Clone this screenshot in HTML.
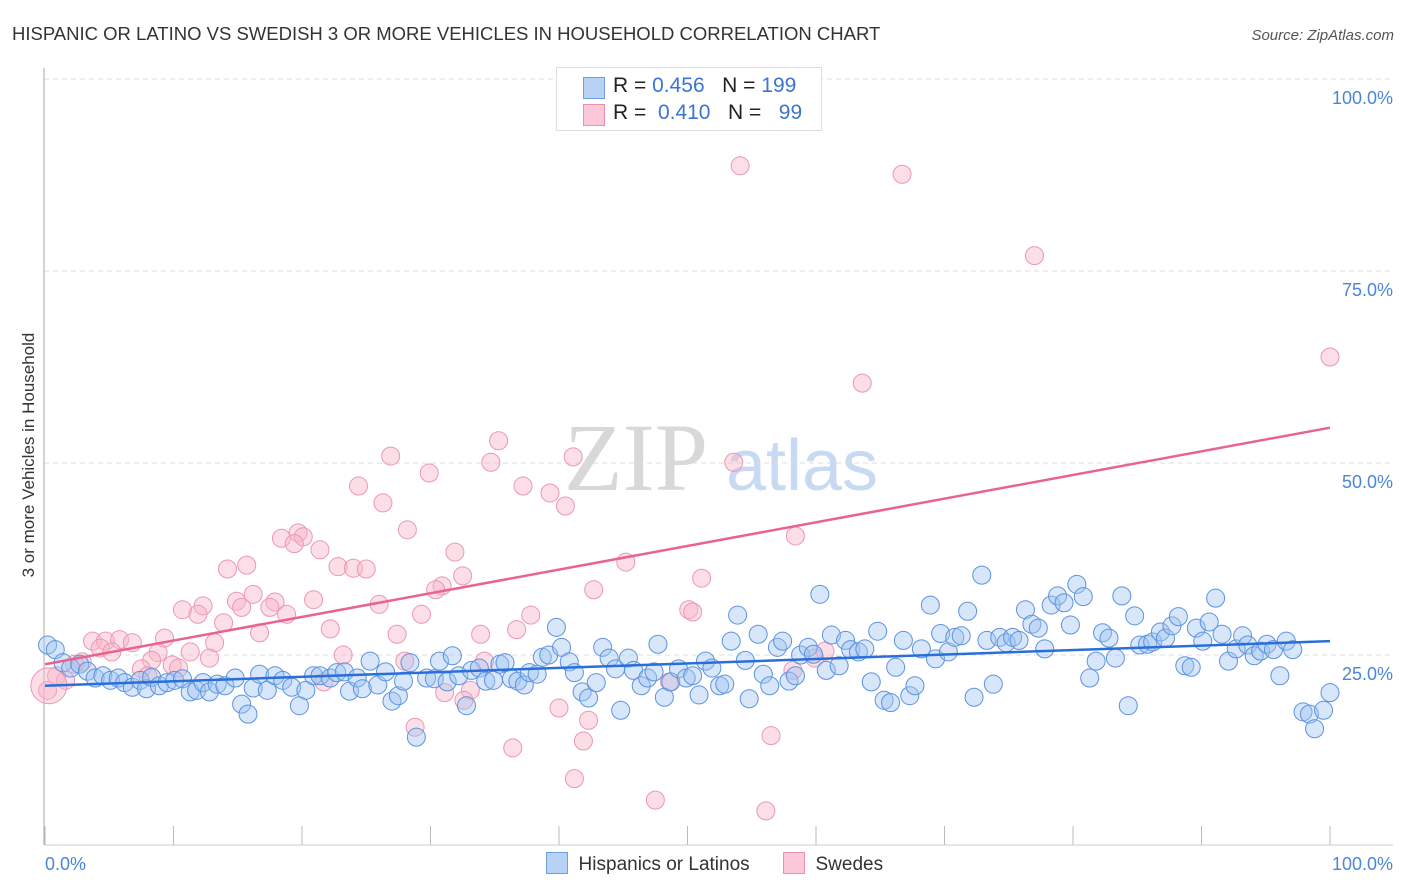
<!DOCTYPE html>
<html><head><meta charset="utf-8"><style>
body{margin:0;background:#fff;font-family:"Liberation Sans",sans-serif;}
#wrap{position:relative;width:1406px;height:892px;overflow:hidden;}
</style></head><body>
<div id="wrap">
<svg id="svg" width="1406" height="892" xmlns="http://www.w3.org/2000/svg">
<text x="12" y="40" font-size="18.5" fill="#333">HISPANIC OR LATINO VS SWEDISH 3 OR MORE VEHICLES IN HOUSEHOLD CORRELATION CHART</text>
<text x="1394" y="40" font-size="15" fill="#555" font-style="italic" text-anchor="end">Source: ZipAtlas.com</text>
<text x="0" y="0" transform="translate(34,455) rotate(-90)" font-size="17" fill="#333" text-anchor="middle">3 or more Vehicles in Household</text>
<g>
<text x="636" y="490" font-size="96" font-family="Liberation Serif,serif" fill="#d8d8d8" text-anchor="middle">ZIP</text>
<text x="802" y="490" font-size="72" fill="#c8daf2" text-anchor="middle">atlas</text>
</g>
<g id="grid"></g>
<g id="axes"></g>
<g id="pts"></g>
<g id="lines"></g>
</svg>
<div style="position:absolute;left:556px;top:67px;width:264px;height:62px;border:1px solid #ddd;background:#fff;font-size:21px;">
<div style="position:absolute;left:26px;top:9px;width:20px;height:20px;background:#b8d2f6;border:1px solid #6f9fe0;"></div>
<div style="position:absolute;left:56px;top:6px;color:#222;white-space:nowrap;">R = <span style="color:#3a75d0">0.456</span>&nbsp;&nbsp; N = <span style="color:#3a75d0">199</span></div>
<div style="position:absolute;left:26px;top:36px;width:20px;height:20px;background:#fbc8d8;border:1px solid #ec8fae;"></div>
<div style="position:absolute;left:56px;top:33px;color:#222;white-space:nowrap;">R = &nbsp;<span style="color:#3a75d0">0.410</span>&nbsp;&nbsp; N = &nbsp;&nbsp;<span style="color:#3a75d0">99</span></div>
</div>
<div style="position:absolute;left:546px;top:852px;font-size:19px;color:#333;">
<span style="display:inline-block;width:20px;height:20px;background:#b8d2f6;border:1px solid #6f9fe0;vertical-align:-4px;"></span>&nbsp; Hispanics or Latinos
<span style="display:inline-block;width:20px;height:20px;background:#fbc8d8;border:1px solid #ec8fae;vertical-align:-4px;margin-left:28px;"></span>&nbsp; Swedes
</div>
</div>
<script>
const yTicks=[100,75,50,25];
const yTickLabels=["100.0%","75.0%","50.0%","25.0%"];
const xTicks=[0,10,20,30,40,50,60,70,80,90,100];
const blueLine=[21.0,26.8];
const pinkLine=[23.8,54.6];
const pinkX=[54.1,66.7,77.0,100,63.6,35.3,26.9,41.1,34.7,53.6,29.9,24.4,37.2,39.3,26.3,40.5,28.2,58.4,19.7,18.4,20.1,19.4,21.4,31.9,15.7,14.2,22.8,24.0,25.0,45.2,32.5,51.1,30.9,30.4,42.7,16.2,14.9,20.9,15.3,17.9,17.5,26.0,10.7,12.3,11.9,50.1,50.4,18.8,29.3,37.8,13.9,22.2,36.7,16.7,33.9,27.4,9.3,3.7,4.7,5.8,6.8,13.2,4.3,5.2,8.8,11.3,12.8,23.2,8.3,9.9,2.9,2.3,28.0,34.2,10.4,7.5,58.2,60.7,59.9,0.9,1.6,0.2,21.7,33.1,31.1,32.6,40.0,42.3,28.8,41.9,56.5,36.4,41.2,47.5,56.1,48.6,8.0];
const pinkY=[88.7,87.6,77.0,63.8,60.4,52.9,50.9,50.8,50.1,50.1,48.7,47.0,47.0,46.1,44.8,44.4,41.3,40.5,40.9,40.2,40.4,39.5,38.7,38.4,36.7,36.2,36.5,36.3,36.2,37.1,35.3,35.0,34.0,33.5,33.5,32.9,32.0,32.2,31.2,31.9,31.2,31.6,30.9,31.4,30.3,30.9,30.6,30.3,30.3,30.2,29.2,28.4,28.3,27.9,27.7,27.7,27.2,26.8,26.8,27.0,26.6,26.6,25.9,25.4,25.3,25.4,24.6,25.0,24.3,23.7,24.1,23.8,24.2,24.2,23.3,23.2,23.0,25.5,24.6,22.3,21.7,20.4,21.5,20.4,20.1,19.1,18.1,16.5,15.6,13.8,14.5,12.9,8.9,6.1,4.7,21.5,22.3];
const blueX=[0.2,0.8,1.4,2.0,2.7,3.3,3.9,4.5,5.1,5.7,6.2,6.8,7.4,7.9,8.3,8.9,9.5,10.1,10.7,11.3,11.8,12.3,12.8,13.4,14.0,14.8,15.3,15.8,16.2,16.7,17.3,17.9,18.5,19.2,19.8,20.3,20.9,21.4,22.2,22.7,23.3,23.7,24.3,24.7,25.3,25.9,26.5,27.0,27.5,27.9,28.4,28.9,29.7,30.3,30.7,31.3,31.7,32.2,32.8,33.2,33.8,34.3,34.9,35.4,35.8,36.3,36.8,37.3,37.7,38.3,38.7,39.2,39.8,40.2,40.8,41.2,41.8,42.3,42.9,43.4,43.9,44.4,44.8,45.4,45.8,46.4,46.9,47.4,47.7,48.2,48.7,49.3,49.9,50.4,50.9,51.4,51.9,52.5,52.9,53.4,53.9,54.5,54.8,55.5,55.9,56.4,57.0,57.4,57.9,58.4,58.8,59.4,59.8,60.3,60.8,61.2,61.8,62.3,62.7,63.3,63.8,64.3,64.8,65.3,65.8,66.2,66.8,67.3,67.7,68.2,68.9,69.3,69.7,70.3,70.8,71.3,71.8,72.3,72.9,73.3,73.8,74.3,74.8,75.3,75.8,76.3,76.8,77.3,77.8,78.3,78.8,79.3,79.8,80.3,80.8,81.3,81.8,82.3,82.8,83.3,83.8,84.3,84.8,85.2,85.8,86.2,86.8,87.2,87.7,88.2,88.7,89.2,89.6,90.1,90.6,91.1,91.6,92.1,92.7,93.2,93.6,94.1,94.6,95.1,95.6,96.1,96.6,97.1,97.9,98.4,98.8,99.5,100];
const blueY=[26.3,25.7,24.0,23.3,23.8,22.9,22.0,22.3,21.7,22.0,21.4,20.8,21.7,20.6,22.1,21.0,21.4,21.7,21.9,20.2,20.4,21.4,20.2,21.2,21.0,22.0,18.6,17.3,20.7,22.5,20.4,22.3,21.7,20.8,18.4,20.4,22.3,22.3,22.0,22.7,22.8,20.3,22.0,20.6,24.2,21.1,22.8,19.0,19.7,21.6,24.0,14.3,22.0,21.9,24.2,21.5,24.9,22.3,18.4,23.0,23.3,21.6,21.7,23.8,24.0,21.9,21.6,21.1,22.7,22.5,24.7,25.0,28.6,26.0,24.1,22.7,20.2,19.4,21.4,26.0,24.6,23.2,17.8,24.6,23.0,21.0,22.0,22.8,26.4,19.5,21.5,23.2,22.0,22.3,19.8,24.2,23.3,21.0,21.2,26.8,30.2,24.3,19.3,27.7,22.5,21.0,26.0,26.8,21.6,22.3,25.0,26.0,25.1,32.9,23.0,27.6,23.6,26.9,25.7,25.4,25.8,21.5,28.1,19.1,18.8,23.4,26.9,19.7,21.0,25.8,31.5,24.5,27.8,25.4,27.3,27.5,30.7,19.5,35.4,26.9,21.2,27.3,26.6,27.3,26.9,30.9,29.0,28.5,25.8,31.5,32.7,31.8,28.9,34.2,32.6,22.0,24.2,27.9,27.2,24.6,32.7,18.4,30.1,26.3,26.4,26.7,28.0,27.2,28.8,30.0,23.6,23.4,28.5,26.8,29.3,32.4,27.7,24.2,25.8,27.5,26.3,24.9,25.5,26.4,25.7,22.3,26.8,25.7,17.6,17.3,15.4,17.8,20.1];

const NS="http://www.w3.org/2000/svg";
const X0=45,X1=1330,Y0=847,YS=7.68;
function sx(v){return X0+(X1-X0)*v/100;}
function sy(v){return Y0-v*YS;}
function mk(tag,attrs,parent){const e=document.createElementNS(NS,tag);for(const k in attrs)e.setAttribute(k,attrs[k]);parent.appendChild(e);return e;}
const grid=document.getElementById('grid'),axes=document.getElementById('axes'),pts=document.getElementById('pts'),lines=document.getElementById('lines');
yTicks.forEach((t,i)=>{
  const l=mk('line',{x1:44,x2:1393,y1:sy(t),y2:sy(t),stroke:'#ddd','stroke-dasharray':'5,4'},grid);
  
  
  const tx=mk('text',{x:1393,y:sy(t)+25,'font-size':18,fill:'#4a86d8','text-anchor':'end'},axes);
  tx.textContent=yTickLabels[i];
  
  
});
const ya=mk('line',{x1:44,x2:44,y1:68,y2:845,stroke:'#aaa'},axes);


const xa=mk('line',{x1:44,x2:1393,y1:845,y2:845,stroke:'#ccc'},axes);


xTicks.forEach(t=>{
  const l=mk('line',{x1:sx(t),x2:sx(t),y1:826,y2:845,stroke:'#bbb'},axes);
  
  
});
const xl0=mk('text',{x:45,y:870,'font-size':18,fill:'#4a86d8'},axes);xl0.textContent='0.0%';


const xl1=mk('text',{x:1393,y:870,'font-size':18,fill:'#4a86d8','text-anchor':'end'},axes);xl1.textContent='100.0%';


pinkX.forEach((x,i)=>{
  const c=mk('circle',{cx:sx(x),cy:sy(pinkY[i]),r:9,fill:'rgba(248,182,202,0.45)',stroke:'#eb97b3','stroke-width':1},pts);
  
  
});
const big=mk('circle',{cx:sx(0.3),cy:sy(21),r:18,fill:'rgba(248,182,202,0.45)',stroke:'#eb97b3'},pts);


blueX.forEach((x,i)=>{
  const c=mk('circle',{cx:sx(x),cy:sy(blueY[i]),r:9,fill:'rgba(160,196,240,0.42)',stroke:'#5b93e0','stroke-width':1},pts);
  
  
});
const pl=mk('line',{x1:sx(0),y1:sy(pinkLine[0]),x2:sx(100),y2:sy(pinkLine[1]),stroke:'#e8648f','stroke-width':2.5},lines);


const bl=mk('line',{x1:sx(0),y1:sy(blueLine[0]),x2:sx(100),y2:sy(blueLine[1]),stroke:'#2a6fd8','stroke-width':2.5},lines);


</script>
</body></html>
